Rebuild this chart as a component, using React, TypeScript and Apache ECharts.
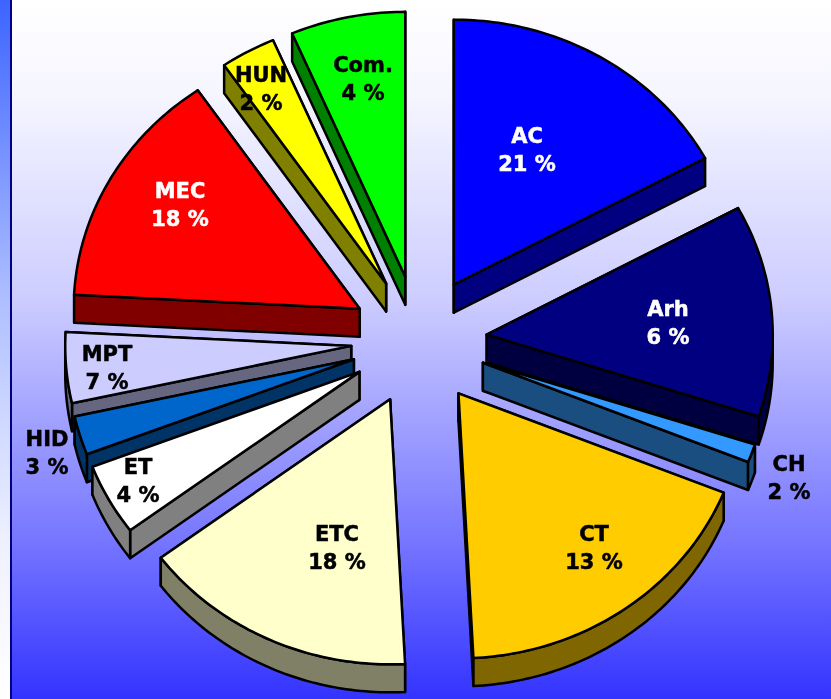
import React, { useEffect, useRef } from "react";
import * as echarts from "echarts";

// Data
const categories = ["AC", "Arh", "CH", "CT", "ETC", "ET", "HID", "MPT", "MEC", "HUN", "Com."];
const percentLabels = [21, 6, 2, 13, 18, 4, 3, 7, 18, 2, 4];
// Drawn slice sweep in degrees (the picture's slices do not follow the printed percentages)
const sliceSweeps = [61.5, 46.5, 4, 65, 56.3, 15.7, 8.5, 15.5, 52.5, 11.2, 23.3];

// Styling and layout
const topColors = ["#0000ff", "#000080", "#3399ff", "#ffcc00", "#ffffcc", "#ffffff", "#0066cc", "#ccccff", "#ff0000", "#ffff00", "#00ff00"];
const wallColors = ["#000080", "#000040", "#1a4d80", "#806600", "#808066", "#808080", "#003366", "#666680", "#800000", "#808000", "#008000"];
const labelColors = ["#ffffff", "#ffffff", "#000000", "#000000", "#000000", "#000000", "#000000", "#000000", "#ffffff", "#000000", "#000000"];
const labelAnchors = [[527, 150], [668, 323], [789, 478], [594, 548], [337, 548], [138, 481], [47, 453], [107, 368], [180, 205], [261, 89], [363, 79]];
const drawOrder = [10, 9, 8, 0, 2, 1, 7, 6, 5, 3, 4];

const W = 831, H = 699;
const CX = 419, CY = 340.5, RX = 286, RY = 265, EXPLODE_X = 68, EXPLODE_Y = 65, DEPTH = 28;
const rad = (d: number) => (d * Math.PI) / 180;

export default function App() {
  const ref = useRef<HTMLDivElement>(null);
  useEffect(() => {
    const chart = echarts.init(ref.current!, null, { renderer: "svg" });
    const starts: number[] = [];
    sliceSweeps.reduce((acc, s, i) => { starts[i] = acc; return acc + s; }, 0);

    const renderItem = (_p: any, api: any) => {
      const i = api.value(0) as number;
      const t0 = starts[i], t1 = t0 + sliceSweeps[i], mid = (t0 + t1) / 2;
      const ax = CX + EXPLODE_X * Math.sin(rad(mid));
      const ay = CY - EXPLODE_Y * Math.cos(rad(mid));
      const pt = (t: number, d = 0) => [ax + RX * Math.sin(rad(t)), ay - RY * Math.cos(rad(t)) + d];
      const arc = (a: number, b: number, d = 0) => {
        const out: number[][] = [];
        const n = Math.max(1, Math.ceil(b - a));
        for (let k = 0; k <= n; k++) out.push(pt(a + ((b - a) * k) / n, d));
        return out;
      };
      const stroke = { stroke: "#000000", lineWidth: 2.5, lineJoin: "round" };
      const children: any[] = [];
      const wall = (pts: number[][]) =>
        children.push({ type: "polygon", shape: { points: pts }, style: { fill: wallColors[i], ...stroke } });
      const edgeWall = (t: number) => wall([[ax, ay], pt(t), pt(t, DEPTH), [ax, ay + DEPTH]]);
      // the edge that faces the viewer goes on last
      if (mid < 180) { edgeWall(t0); edgeWall(t1); } else { edgeWall(t1); edgeWall(t0); }
      const a = Math.max(t0, 90), b = Math.min(t1, 270);
      if (b > a) wall([...arc(a, b), ...arc(a, b, DEPTH).reverse()]);
      children.push({
        type: "polygon",
        shape: { points: [[ax, ay], ...arc(t0, t1)] },
        style: { fill: topColors[i], ...stroke },
      });
      children.push({
        type: "text",
        z2: 100,
        x: labelAnchors[i][0],
        y: labelAnchors[i][1],
        style: {
          text: `${categories[i]}\n${percentLabels[i]} %`,
          fill: labelColors[i],
          stroke: labelColors[i],
          lineWidth: 0.5,
          font: 'bold 21px "DejaVu Sans"',
          lineHeight: 28,
          align: "center",
          verticalAlign: "middle",
        },
      });
      return { type: "group", children };
    };

    chart.setOption({
      animation: false,
      graphic: [
        {
          type: "rect", z: -10, silent: true,
          shape: { x: 0, y: 0, width: 11, height: H },
          style: { fill: new echarts.graphic.LinearGradient(0, 0, 0, 1, [
            { offset: 0, color: "#3c64ff" }, { offset: 0.43, color: "#afbfff" }, { offset: 0.77, color: "#eef0ff" }, { offset: 1, color: "#ffffff" },
          ]) },
        },
        {
          type: "rect", z: -10, silent: true,
          shape: { x: 10, y: 0, width: W - 10, height: H },
          style: { fill: new echarts.graphic.LinearGradient(0, 0, 0, 1, [
            { offset: 0, color: "#ffffff" }, { offset: 0.14, color: "#f5f5ff" }, { offset: 0.43, color: "#ccccff" }, { offset: 0.77, color: "#7777ff" }, { offset: 1, color: "#3333ff" },
          ]) },
        },
        { type: "rect", z: -9, silent: true, shape: { x: 10, y: 0, width: 2, height: H }, style: { fill: "#000080" } },
      ],
      series: [{
        type: "custom",
        coordinateSystem: "none",
        renderItem,
        data: drawOrder.map((i) => [i]),
      }],
    });
    return () => chart.dispose();
  }, []);
  return <div ref={ref} style={{ position: "fixed", left: 0, top: 0, width: W, height: H }} />;
}
